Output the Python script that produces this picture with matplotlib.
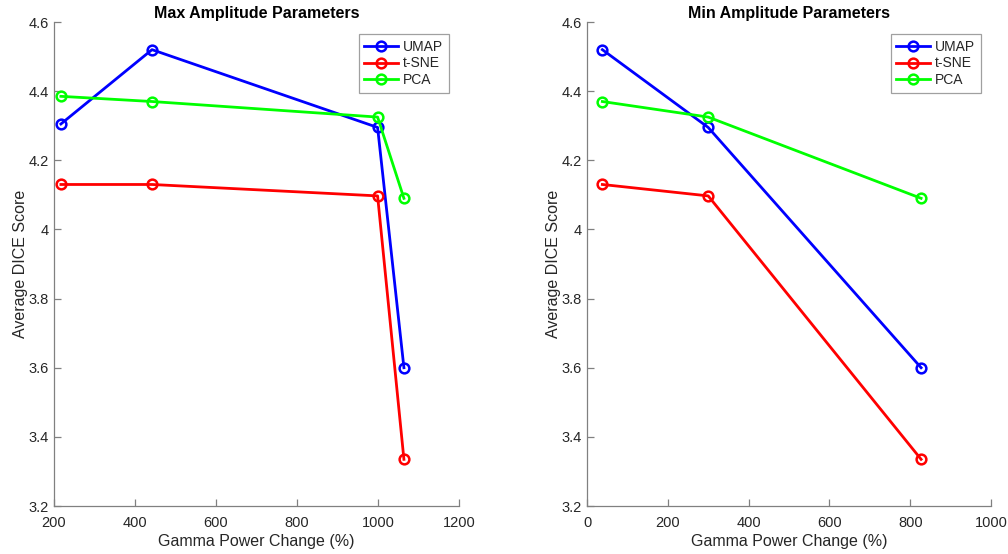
import matplotlib
matplotlib.use("Agg")
import matplotlib.pyplot as plt

plt.rcParams['font.family'] = ['Liberation Sans', 'DejaVu Sans']

# Data
series_names = ["UMAP", "t-SNE", "PCA"]
series_colors = ["#0000ff", "#ff0000", "#00ff00"]

max_x = [217, 442, 999, 1064]
max_umap = [4.305, 4.52, 4.295, 3.60]
max_tsne = [4.13, 4.13, 4.097, 3.335]
max_pca = [4.385, 4.37, 4.325, 4.09]

min_x = [38, 300, 827]
min_umap = [4.52, 4.295, 3.60]
min_tsne = [4.13, 4.097, 3.335]
min_pca = [4.37, 4.325, 4.09]

y_ticks = [3.2, 3.4, 3.6, 3.8, 4.0, 4.2, 4.4, 4.6]
y_ticklabels = ["3.2", "3.4", "3.6", "3.8", "4", "4.2", "4.4", "4.6"]
max_xticks = [200, 400, 600, 800, 1000, 1200]
min_xticks = [0, 200, 400, 600, 800, 1000]

fig = plt.figure(figsize=(10.08, 5.54), dpi=100)
W, H = 1008, 554
ax1 = fig.add_axes([54 / W, 1 - 506 / H, 405 / W, 484 / H])
ax2 = fig.add_axes([587 / W, 1 - 506 / H, 404 / W, 484 / H])

spine_c = "#808080"
text_c = "#262626"

def style(ax, x, ys, xticks, xlim, title):
    for y, name, c in zip(ys, series_names, series_colors):
        ax.plot(x, y, color=c, lw=2.0, marker='o', markersize=7,
                markerfacecolor='none', markeredgewidth=1.8, label=name)
    ax.set_xlim(*xlim)
    ax.set_ylim(3.2, 4.6)
    ax.set_xticks(xticks)
    ax.set_xticklabels([str(t) for t in xticks])
    ax.set_yticks(y_ticks)
    ax.set_yticklabels(y_ticklabels)
    for s in ["top", "right"]:
        ax.spines[s].set_visible(False)
    for s in ["left", "bottom"]:
        ax.spines[s].set_color(spine_c)
        ax.spines[s].set_linewidth(0.9)
    ax.tick_params(direction='in', length=5, width=0.9, color=spine_c,
                   labelsize=10.5, labelcolor=text_c)
    ax.tick_params(axis='x', pad=7)
    ax.tick_params(axis='y', pad=4)
    ax.set_xlabel("Gamma Power Change (%)", fontsize=11.5, color=text_c, labelpad=3)
    ax.set_ylabel("Average DICE Score", fontsize=11.5, color=text_c, labelpad=0)
    ax.set_title(title, fontsize=11.5, fontweight='bold', color='black', pad=3)
    leg = ax.legend(loc='upper right', bbox_to_anchor=(0.975, 0.975),
                    borderaxespad=0, fontsize=10, handlelength=2.4,
                    fancybox=False, framealpha=1, edgecolor='#a0a0a0',
                    borderpad=0.4, labelspacing=0.2, handletextpad=0.4)
    leg.get_frame().set_linewidth(0.9)
    for t in leg.get_texts():
        t.set_color(text_c)

style(ax1, max_x, [max_umap, max_tsne, max_pca], max_xticks, (200, 1200),
      "Max Amplitude Parameters")
style(ax2, min_x, [min_umap, min_tsne, min_pca], min_xticks, (0, 1000),
      "Min Amplitude Parameters")

fig.savefig("out.png", dpi=100, facecolor='white')
